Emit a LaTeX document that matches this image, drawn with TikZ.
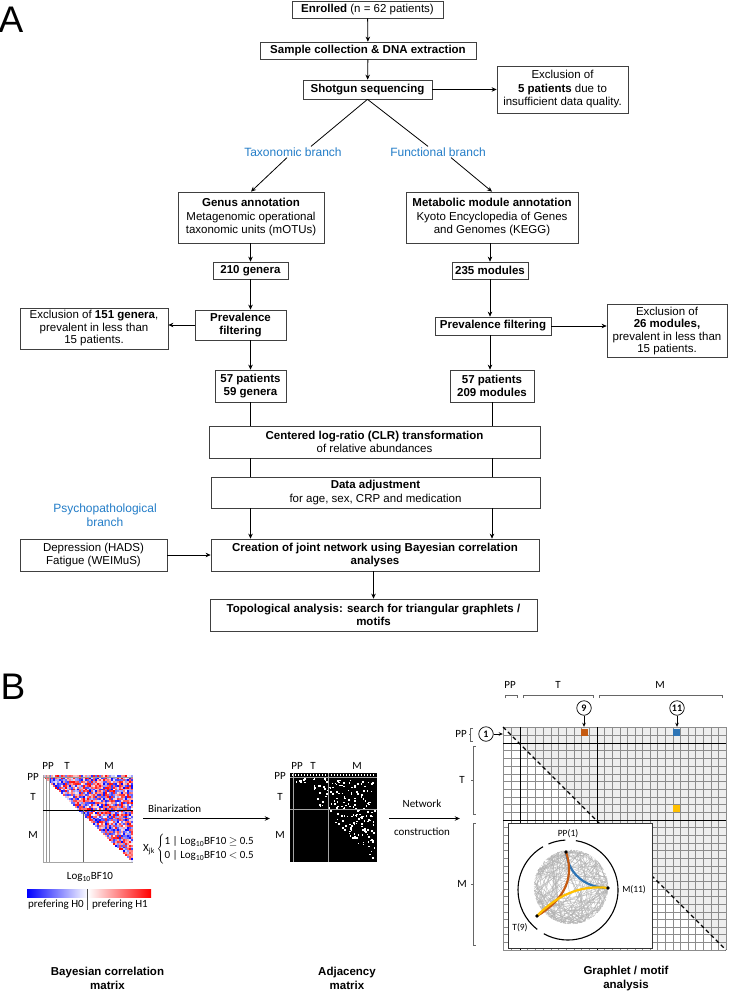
\documentclass[tikz,border=0pt]{standalone}
\usepackage{fontspec}
\setmainfont{Liberation Sans}
\newfontfamily\carl{Carlito}
\usetikzlibrary{arrows.meta,calc}
\definecolor{brblue}{RGB}{35,125,200}
\definecolor{morange}{RGB}{197,90,17}
\definecolor{mblue}{RGB}{46,117,182}
\definecolor{myellow}{RGB}{255,192,0}
\begin{document}
\begin{tikzpicture}[x=1pt,y=-1pt,
  box/.style={draw=black!75, line width=0.7pt, fill=white, align=center, inner sep=0pt, font=\fontsize{11.5}{13.5}\selectfont},
  arr/.style={-{Stealth[length=5pt,width=4.5pt]}, line width=0.8pt},
  arrs/.style={-{Stealth[length=4pt,width=3.5pt]}, line width=0.7pt},
  plainln/.style={line width=0.8pt},
  branch/.style={text=brblue, font=\fontsize{12}{14.5}\selectfont, align=center, inner sep=1pt},
  lbl/.style={font=\carl\fontsize{11}{13}\selectfont, inner sep=0pt},
  slbl/.style={font=\carl\fontsize{9.5}{11}\selectfont, inner sep=0pt},
  captxt/.style={font=\bfseries\fontsize{11.5}{13.5}\selectfont, align=center, inner sep=0pt},
  gridl/.style={black!45, line width=0.45pt},
  blockline/.style={black, line width=1pt},
  brk/.style={black!60, line width=0.6pt},
  numc/.style={circle, draw, line width=0.7pt, minimum size=14.5pt, inner sep=0pt, fill=white, font=\carl\bfseries\fontsize{10}{10}\selectfont},
  sqbox/.style={minimum size=7pt, inner sep=0pt}
]
\useasboundingbox (0,0) rectangle (729,992);
\fill[white] (0,0) rectangle (729,992);

% ---------------- Part A ----------------
\node[font=\fontsize{37}{40}\selectfont, inner sep=0pt] (labA) at (11,19.5) {A};
\node[box, minimum width=151pt, minimum height=17pt] (enr) at (367.5,9.5) {\textbf{Enrolled} (n = 62 patients)};
\node[box, minimum width=216pt, minimum height=17pt] (smp) at (368,50.5) {\textbf{Sample collection \& DNA extraction}};
\node[box, minimum width=129pt, minimum height=19pt] (shot) at (367.5,89.5) {\textbf{Shotgun sequencing}};
\node[box, minimum width=131pt, minimum height=47pt] (exc1) at (562.5,89.5) {Exclusion of\\\textbf{5 patients} due to\\insufficient data quality.};
\node[branch] (taxo) at (293,152) {Taxonomic branch};
\node[branch] (func) at (438,152) {Functional branch};
\node[box, minimum width=146pt, minimum height=51pt] (genus) at (251,217.5) {\textbf{Genus annotation}\\Metagenomic operational\\taxonomic units (mOTUs)};
\node[box, minimum width=172pt, minimum height=51pt] (metab) at (492,217.5) {\textbf{Metabolic module annotation}\\Kyoto Encyclopedia of Genes\\and Genomes (KEGG)};
\node[box, minimum width=75pt, minimum height=17pt] (g210) at (250.5,270.5) {\textbf{210 genera}};
\node[box, minimum width=76pt, minimum height=17pt] (m235) at (490,270.5) {\textbf{235 modules}};
\node[box, minimum width=91pt, minimum height=30pt] (prevL) at (240.5,325) {\textbf{Prevalence}\\\textbf{filtering}};
\node[box, minimum width=148pt, minimum height=41pt, font=\fontsize{11.5}{12.5}\selectfont] (excL) at (94,328.5) {Exclusion of \textbf{151 genera},\\prevalent in less than\\15 patients.};
\node[box, minimum width=116pt, minimum height=18pt] (prevR) at (493,326) {\textbf{Prevalence filtering}};
\node[box, minimum width=120pt, minimum height=53pt, font=\fontsize{11.5}{12.5}\selectfont] (excR) at (667,331) {Exclusion of\\\textbf{26 modules,}\\prevalent in less than\\15 patients.};
\node[box, minimum width=71pt, minimum height=32pt] (p57L) at (250.5,386) {\textbf{57 patients}\\\textbf{59 genera}};
\node[box, minimum width=84pt, minimum height=32pt] (p57R) at (492,386) {\textbf{57 patients}\\\textbf{209 modules}};
\node[box, minimum width=331pt, minimum height=32pt] (clr) at (374.5,442) {\textbf{Centered log-ratio (CLR) transformation}\\of relative abundances};
\node[box, minimum width=329pt, minimum height=31pt] (adj) at (375.5,492.5) {\textbf{Data adjustment}\\for age, sex, CRP and medication};
\node[box, minimum width=328pt, minimum height=32pt] (crt) at (375,555) {\textbf{Creation of joint network using Bayesian correlation}\\\textbf{analyses}};
\node[branch] (psy) at (105,515) {Psychopathological\\branch};
\node[box, minimum width=147pt, minimum height=32pt] (dep) at (93.5,555) {Depression (HADS)\\Fatigue (WEIMuS)};
\node[box, minimum width=327pt, minimum height=32pt] (topo) at (373.5,615) {\textbf{Topological analysis: search for triangular graphlets /}\\\textbf{motifs}};

\draw[arr] (enr) -- (smp);
\draw[arr] (smp) -- (shot);
\draw[arr] (shot) -- (exc1);
\draw[plainln] (shot.south) -- ([xshift=18pt]taxo.north);
\draw[plainln] (shot.south) -- ([xshift=-10pt]func.north);
\draw[arr] ([xshift=-6pt]taxo.south) -- (genus.north);
\draw[arr] ([xshift=13pt]func.south) -- (metab.north);
\draw[arr] (g210.north |- genus.south) -- (g210.north);
\draw[arr] (g210.south) -- (g210.south |- prevL.north);
\draw[arr] (g210.south |- prevL.south) -- (p57L.north);
\draw[arr] (prevL.west) -- (prevL.west -| excL.east);
\draw[arr] (m235.north |- metab.south) -- (m235.north);
\draw[arr] (m235.south) -- (m235.south |- prevR.north);
\draw[arr] (m235.south |- prevR.south) -- (m235.south |- p57R.north);
\draw[arr] (prevR.east) -- (prevR.east -| excR.west);
\draw[plainln] (p57L.south) -- (p57L.south |- clr.north);
\draw[plainln] (p57R.south) -- (p57R.south |- clr.north);
\draw[plainln] (p57L.south |- clr.south) -- (p57L.south |- adj.north);
\draw[plainln] (p57R.south |- clr.south) -- (p57R.south |- adj.north);
\draw[arr] (p57L.south |- adj.south) -- (p57L.south |- crt.north);
\draw[arr] (p57R.south |- adj.south) -- (p57R.south |- crt.north);
\draw[arr] (dep) -- (crt);
\draw[arr] (topo.north |- crt.south) -- (topo.north);

% ---------------- Part B ----------------
\node[font=\fontsize{37}{40}\selectfont, inner sep=0pt] (labB) at (13,687) {B};

% Bayesian correlation matrix
\node[inner sep=0pt, minimum width=90pt, minimum height=87pt] (bmat) at (88,818.5) {};
\pgfmathsetseed{7}
\foreach \i in {0,...,44}{
  \foreach \j in {\i,...,44}{
    \pgfmathsetmacro\v{rand}
    \pgfmathtruncatemacro\p{100*abs(\v)^0.7}
    \ifdim \v pt<0pt \def\hc{blue}\else\def\hc{red}\fi
    \fill[\hc!\p!white] (43+\j*2, 775+\i*1.933) rectangle ++(2,1.933);
  }
}
\draw[black!35, line width=0.5pt] (43,775) -- (43,862) -- (133,862);
\draw[black!40, line width=0.6pt] (46.5,775) -- (46.5,862);
\draw[black!40, line width=0.6pt] (49,775) -- (49,862);
\draw[black!40, line width=0.5pt] (43,777.5) -- (133,777.5);
\draw[black, line width=0.7pt] (43,810) -- (133,810);
\draw[black!60, line width=0.5pt] (83,810) -- (83,862);
\node[lbl] (bpp) at (48,766) {PP};
\node[lbl] (bt) at (67,766) {T};
\node[lbl] (bm) at (109,766) {M};
\node[lbl] (brpp) at (33,777) {PP};
\node[lbl] (brt) at (33,797) {T};
\node[lbl] (brm) at (33,835) {M};
\node[lbl] (blog) at (90,877) {Log\textsubscript{10}BF10};
\shade[left color=blue, right color=white] (27,889) rectangle (88,897);
\shade[left color=white, right color=red] (88,889) rectangle (151,897);
\draw[black!70, line width=0.5pt] (87.5,889) -- (87.5,910);
\node[lbl] (h0) at (56,905) {prefering H0};
\node[lbl] (h1) at (120,905) {prefering H1};
\node[captxt] (bcap) at (107.5,978.5) {Bayesian correlation\\matrix};

% Adjacency matrix
\node[inner sep=0pt, minimum width=87pt, minimum height=89pt, fill=black] (amat) at (333.5,817.5) {};
\pgfmathsetseed{3}
\foreach \k in {1,...,190}{
  \pgfmathsetmacro\ra{rnd}
  \pgfmathsetmacro\rb{rnd}
  \pgfmathsetmacro\xa{max(\ra,\rb)}
  \pgfmathsetmacro\ya{min(\ra,\rb)}
  \fill[white] (290.5+84*\xa, 778+82*\ya) rectangle ++(1.6,1.6);
}
\foreach \k in {0,...,27}{
  \fill[white] (291.5+3*\k, 774.2) rectangle ++(1.4,1.4);
}
\draw[gray!70, line width=0.5pt] (290,777) -- (377,777);
\draw[gray!70, line width=0.5pt] (290,809) -- (377,809);
\draw[gray!70, line width=0.5pt] (293,773) -- (293,862);
\draw[gray!70, line width=0.5pt] (328,773) -- (328,862);
\node[lbl] (app) at (297,766) {PP};
\node[lbl] (atl) at (313,766) {T};
\node[lbl] (aml) at (357,766) {M};
\node[lbl] (arpp) at (280,776) {PP};
\node[lbl] (art) at (280,797) {T};
\node[lbl] (arm) at (280,835) {M};
\node[captxt] (acap) at (347,978.5) {Adjacency\\matrix};

% Binarization
\node[lbl, anchor=west] (bin) at (148,809) {Binarization};
\draw[arr] ([xshift=10pt]bmat.east) -- ([xshift=-20pt]amat.west |- bmat.east);
\node[lbl, anchor=west, font=\carl\fontsize{11}{14}\selectfont] (xjk) at (143,849) {X\textsubscript{jk}\,$\left\{\begin{tabular}{@{}l@{}}1 | Log\textsubscript{10}BF10 $\geq$ 0.5\\0 | Log\textsubscript{10}BF10 $<$ 0.5\end{tabular}\right.$};

% Graphlet matrix
\node[inner sep=0pt, minimum width=223pt, minimum height=223pt] (gmat) at (614.5,838.5) {};
\draw[arr] ([xshift=12pt]amat.east |- bmat.east) -- ([xshift=-43pt]gmat.west |- bmat.east);
\node[lbl] (net) at (422,804) {Network};
\node[lbl] (cons) at (422,832) {construction};

\fill[gray!13] (503,727) -- (726,727) -- (726,950) -- cycle;
\foreach \xx in {503,511.5} {
  \draw[gridl] (\xx,727) -- (\xx,950);
  \draw[gridl] (503,\xx+224) -- (726,\xx+224);
}
\foreach \k in {1,...,9} {
  \draw[gridl] (520+\k*7.7,727) -- (520+\k*7.7,950);
  \draw[gridl] (503,743+\k*7.7) -- (726,743+\k*7.7);
}
\foreach \k in {1,...,17} {
  \draw[gridl] (597+\k*7.588,727) -- (597+\k*7.588,950);
  \draw[gridl] (503,820+\k*7.647) -- (726,820+\k*7.647);
}
\draw[blockline] (520,727) -- (520,950);
\draw[blockline] (597,727) -- (597,950);
\draw[blockline] (503,743) -- (726,743);
\draw[blockline] (503,820) -- (726,820);
\draw[black, line width=1.3pt, dash pattern=on 4pt off 3pt] (503,727) -- (726,950);

\node[sqbox, fill=morange] (sq9) at (584.5,732) {};
\node[sqbox, fill=mblue] (sq11) at (676.5,732) {};
\node[sqbox, fill=myellow] (sqy) at (676.5,808.5) {};

% top brackets
\draw[brk] (505,698) -- (505,695) -- (517,695) -- (517,698);
\draw[brk] (523,698) -- (523,695) -- (593,695) -- (593,698);
\draw[brk] (599,698) -- (599,695) -- (722,695) -- (722,698);
\node[lbl] (gpp) at (510,685) {PP};
\node[lbl] (gt) at (558,685) {T};
\node[lbl] (gm) at (660,685) {M};
% left brackets
\draw[brk] (473,728) -- (470.5,728) -- (470.5,741) -- (473,741);
\draw[brk] (470.5,734.5) -- (468.5,734.5);
\draw[brk] (475.5,746) -- (473,746) -- (473,814) -- (475.5,814);
\draw[brk] (473,780) -- (470.5,780);
\draw[brk] (475.5,823) -- (473,823) -- (473,945) -- (475.5,945);
\draw[brk] (473,884) -- (470.5,884);
\node[lbl] (gpp2) at (461,734) {PP};
\node[lbl] (gt2) at (462,780) {T};
\node[lbl] (gm2) at (462,884) {M};

\node[numc] (c1) at (486,734) {1};
\node[numc] (c9) at (584,708) {9};
\node[numc] (c11) at (677,708) {11};
\draw[arrs] (c1) -- (gmat.west |- c1);
\draw[arrs] (c9) -- (c9 |- gmat.north);
\draw[arrs] (c11) -- (c11 |- gmat.north);

% inset
\node[draw=black!80, line width=0.6pt, fill=white, minimum width=144pt, minimum height=125pt, inner sep=0pt] (inset) at (580,885.5) {};
\coordinate (cc) at (568,890);
\coordinate (ch) at (571,887);
\pgfmathsetseed{11}
\foreach \k in {1,...,150}{
  \pgfmathsetmacro\aa{rnd*360}
  \pgfmathsetmacro\bb{\aa+35+rnd*140}
  \draw[gray!60, line width=0.3pt] ($(ch)+(\aa:37pt)$) -- ($(ch)+(\bb:37pt)$);
}
\draw[black, line width=1.1pt] ($(cc)+(241:50pt)$) arc[start angle=241, end angle=441, radius=50pt];
\draw[black, line width=1.1pt] ($(cc)+(93:50pt)$) arc[start angle=93, end angle=113, radius=50pt];
\draw[black, line width=1.1pt] ($(cc)+(120:50pt)$) arc[start angle=120, end angle=232, radius=50pt];
\coordinate (nPP) at (566,852);
\coordinate (nM) at (608,888);
\coordinate (nT) at (537,916);
\draw[mblue, line width=2.2pt] (nPP) .. controls (569,878) and (590,888) .. (nM);
\draw[morange, line width=2.2pt] (nPP) .. controls (576,882) and (560,902) .. (nT);
\draw[myellow, line width=2.2pt] (nT) .. controls (560,892) and (585,885) .. (nM);
\fill[black] (nPP) circle[radius=1.8pt];
\fill[black] (nM) circle[radius=1.8pt];
\fill[black] (nT) circle[radius=1.8pt];
\node[slbl] (lpp) at (568,834) {PP(1)};
\node[slbl] (lm) at (634,890) {M(11)};
\node[slbl] (lt) at (520,928) {T(9)};

\node[captxt] (gcap) at (626,978.5) {Graphlet / motif\\analysis};
\end{tikzpicture}
\end{document}
